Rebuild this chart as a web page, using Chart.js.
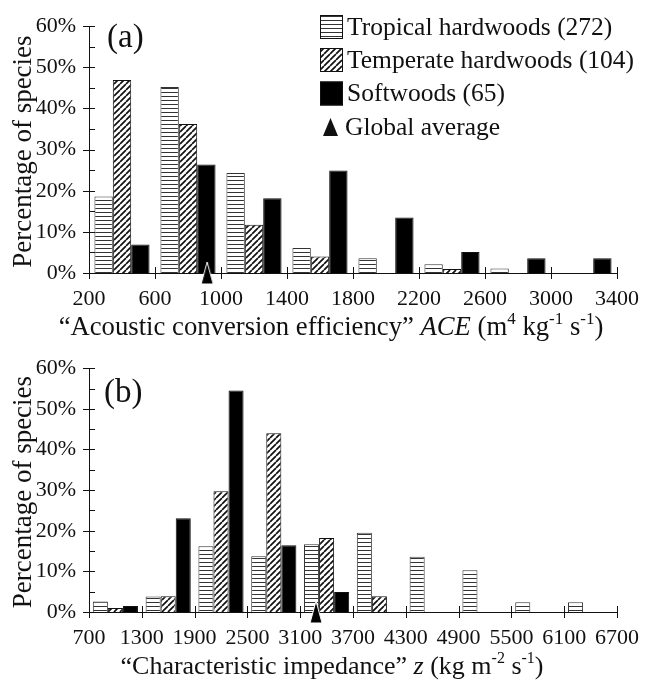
<!DOCTYPE html>
<html>
<head>
<meta charset="utf-8">
<script src="https://cdn.jsdelivr.net/npm/chart.js@4.4.1/dist/chart.umd.min.js"></script>
<style>
  html, body { margin: 0; padding: 0; background: #fff; }
  canvas { display: block; }
</style>
</head>
<body>
<canvas id="chart-ace" width="652" height="342"></canvas>
<canvas id="chart-z" width="652" height="342"></canvas>
<script>
// --- data (percent of species per bin) ---
const seriesNames = ["Tropical hardwoods (272)", "Temperate hardwoods (104)", "Softwoods (65)"];
const averageLabel = "Global average";
const yTicks = [0, 10, 20, 30, 40, 50, 60];

const aceEdges = [200, 600, 1000, 1400, 1800, 2200, 2600, 3000, 3400];
const aceTropical = [18.6, 45.2, 24.3, 6.1, 3.6, 2.1, 1.1, 0];
const aceTemperate = [46.9, 36.2, 11.7, 4.0, 0, 1.0, 0, 0];
const aceSoftwood = [6.9, 26.4, 18.2, 24.9, 13.5, 5.1, 3.6, 3.6];
const aceAverage = 916;

const zEdges = [700, 1300, 1900, 2500, 3100, 3700, 4300, 4900, 5500, 6100, 6700];
const zTropical = [2.6, 3.8, 16.2, 13.7, 16.7, 19.5, 13.6, 10.3, 2.4, 2.4];
const zTemperate = [1.0, 3.9, 29.7, 44.0, 18.2, 3.9, 0, 0, 0, 0];
const zSoftwood = [1.5, 23.1, 54.5, 16.4, 4.9, 0, 0, 0, 0, 0];
const zAverage = 3280;

const FONT = '"Liberation Serif", "Times New Roman", serif';
const INK = "#111";

function makeStripes() {
  const c = document.createElement("canvas");
  c.width = 4; c.height = 4;
  const g = c.getContext("2d");
  g.fillStyle = "#fff"; g.fillRect(0, 0, 4, 4);
  g.fillStyle = "#333"; g.fillRect(0, 0, 4, 1);
  return g.createPattern(c, "repeat");
}

function makeHatch() {
  const s = 6;
  const c = document.createElement("canvas");
  c.width = s; c.height = s;
  const g = c.getContext("2d");
  g.fillStyle = "#fff"; g.fillRect(0, 0, s, s);
  g.strokeStyle = INK; g.lineWidth = 1.7;
  g.beginPath();
  for (const k of [-s, 0, s]) { g.moveTo(k, s); g.lineTo(k + s, 0); }
  g.stroke();
  return g.createPattern(c, "repeat");
}

function makeTriangle(w, h) {
  const c = document.createElement("canvas");
  c.width = w + 2; c.height = h + 2;
  const g = c.getContext("2d");
  g.beginPath();
  g.moveTo((w + 2) / 2, 1); g.lineTo(w + 1, h + 1); g.lineTo(1, h + 1); g.closePath();
  g.fillStyle = "#000"; g.fill();
  g.strokeStyle = "#fff"; g.lineWidth = 1; g.stroke();
  return c;
}

const stripes = makeStripes();
const hatch = makeHatch();
const fills = [stripes, hatch, "#000"];
const triMarker = makeTriangle(12, 22);

// rich text: [text, "n" | "i" | "sup"]
function drawRich(ctx, parts, cx, cy, size) {
  const fontFor = (st) => st === "i" ? `italic ${size}px ${FONT}` : st === "sup" ? `${Math.round(size * 0.62)}px ${FONT}` : `${size}px ${FONT}`;
  let total = 0;
  parts.forEach(([t, st]) => { ctx.font = fontFor(st); total += ctx.measureText(t).width; });
  let x = cx - total / 2;
  ctx.textBaseline = "middle";
  ctx.textAlign = "left";
  parts.forEach(([t, st]) => {
    ctx.font = fontFor(st);
    ctx.fillText(t, x, st === "sup" ? cy - size * 0.3 : cy);
    x += ctx.measureText(t).width;
  });
}

function decorPlugin(cfg) {
  return {
    id: "decor",
    afterDraw(chart) {
      const { ctx, chartArea: a, scales } = chart;
      ctx.save();
      ctx.strokeStyle = INK; ctx.fillStyle = INK; ctx.lineWidth = 1;
      // x tick marks crossing the axis
      ctx.beginPath();
      scales.x.ticks.forEach((t) => {
        const px = Math.round(scales.x.getPixelForValue(t.value)) + 0.5;
        ctx.moveTo(px, a.bottom - 6); ctx.lineTo(px, a.bottom + 6);
      });
      // y ticks: major crossing, minor inward
      for (let v = 0; v <= 60; v += 5) {
        const py = Math.round(scales.y.getPixelForValue(v)) + 0.5;
        if (v % 10 === 0) { ctx.moveTo(a.left - 6, py); ctx.lineTo(a.left + 6, py); }
        else { ctx.moveTo(a.left, py); ctx.lineTo(a.left + 6, py); }
      }
      ctx.stroke();

      // y title
      ctx.save();
      ctx.translate(24, (a.top + a.bottom) / 2 + 2);
      ctx.rotate(-Math.PI / 2);
      ctx.font = `27px ${FONT}`; ctx.textAlign = "center"; ctx.textBaseline = "middle";
      ctx.fillText("Percentage of species", 0, 0);
      ctx.restore();

      // x title
      drawRich(ctx, cfg.xTitle, cfg.titleX, a.bottom + 55, cfg.titleSize);

      // panel letter
      ctx.font = `33px ${FONT}`; ctx.textAlign = "left"; ctx.textBaseline = "middle";
      ctx.fillText(cfg.panel, cfg.panelX, cfg.panelY);

      if (cfg.legend) {
        const x0 = 320, rows = [27, 60, 93.5];
        ctx.font = `25.5px ${FONT}`; ctx.textBaseline = "middle";
        seriesNames.forEach((name, i) => {
          ctx.fillStyle = fills[i];
          ctx.fillRect(x0, rows[i] - 12, 23, 24);
          ctx.strokeStyle = INK;
          ctx.strokeRect(x0 + 0.5, rows[i] - 11.5, 22, 23);
          ctx.fillStyle = INK;
          ctx.fillText(name, x0 + 27, rows[i] + 1);
        });
        ctx.beginPath();
        ctx.moveTo(330.5, 118); ctx.lineTo(338, 136); ctx.lineTo(323, 136); ctx.closePath();
        ctx.fill();
        ctx.fillText(averageLabel, 345, 128);
      }
      ctx.restore();
    },
  };
}

function renderHistogram(id, edges, tropical, temperate, softwood, average, cfg) {
  const centers = edges.slice(1).map((e, i) => (e + edges[i]) / 2);
  const values = [tropical, temperate, softwood];
  const barSets = values.map((vals, i) => ({
    label: seriesNames[i],
    data: centers.map((x, j) => ({ x, y: vals[j] })),
    backgroundColor: fills[i],
    borderColor: i === 0 ? "#333" : INK,
    borderWidth: 1,
    categoryPercentage: cfg.catPct,
    barPercentage: 1,
    order: 1,
  }));
  return new Chart(document.getElementById(id), {
    type: "bar",
    data: {
      datasets: [
        {
          type: "scatter",
          label: averageLabel,
          data: [{ x: average, y: 0 }],
          pointStyle: triMarker,
          pointRadius: 6,
          clip: false,
          order: 0,
        },
        ...barSets,
      ],
    },
    options: {
      responsive: false,
      animation: false,
      events: [],
      layout: { padding: { left: 0, top: cfg.top, right: 652 - cfg.right, bottom: 0 } },
      plugins: { legend: { display: false }, tooltip: { enabled: false } },
      scales: {
        x: {
          type: "linear",
          min: edges[0],
          max: edges[edges.length - 1],
          offset: false,
          grid: { display: false, drawTicks: false, offset: false },
          border: { display: true, color: INK, width: 1 },
          afterBuildTicks: (s) => { s.ticks = edges.map((v) => ({ value: v })); },
          afterFit: (s) => { s.height = 342 - cfg.bottom; },
          ticks: { color: INK, font: { family: FONT, size: 22 }, padding: 13, maxRotation: 0, autoSkip: false, callback: (v) => String(v) },
        },
        y: {
          min: 0,
          max: 60,
          grid: { display: false, drawTicks: false },
          border: { display: true, color: INK, width: 1 },
          afterBuildTicks: (s) => { s.ticks = yTicks.map((v) => ({ value: v })); },
          afterFit: (s) => { s.width = 89; },
          ticks: { color: INK, font: { family: FONT, size: 22 }, padding: 13, callback: (v) => `${v}%` },
        },
      },
    },
    plugins: [decorPlugin(cfg)],
  });
}

renderHistogram("chart-ace", aceEdges, aceTropical, aceTemperate, aceSoftwood, aceAverage, {
  top: 21, bottom: 273, right: 630, catPct: 0.835, panel: "(a)", panelX: 107, panelY: 38, titleX: 331, titleSize: 26.7, legend: true,
  xTitle: [["\u201CAcoustic conversion efficiency\u201D ", "n"], ["ACE", "i"], [" (m", "n"], ["4", "sup"], [" kg", "n"], ["-1", "sup"], [" s", "n"], ["-1", "sup"], [")", "n"]],
});

renderHistogram("chart-z", zEdges, zTropical, zTemperate, zSoftwood, zAverage, {
  top: 20, bottom: 270, right: 631, catPct: 0.855, panel: "(b)", panelX: 104, panelY: 51, titleX: 332, titleSize: 26, legend: false,
  xTitle: [["\u201CCharacteristic impedance\u201D ", "n"], ["z", "i"], [" (kg m", "n"], ["-2", "sup"], [" s", "n"], ["-1", "sup"], [")", "n"]],
});
</script>
</body>
</html>
